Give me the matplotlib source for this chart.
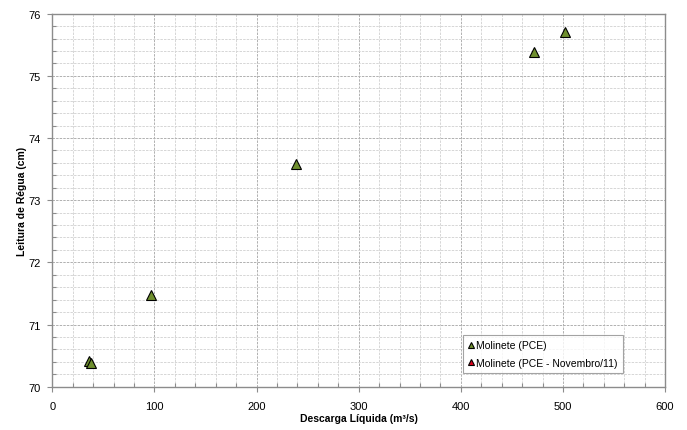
import matplotlib

matplotlib.use("Agg")
import matplotlib.pyplot as plt
from matplotlib.ticker import MultipleLocator

plt.rcParams["font.family"] = ["Liberation Sans", "DejaVu Sans"]

# medições com molinete
q_pce = [35.5, 37.8, 96.7, 238.2, 471.8, 502.0]
h_pce = [70.41, 70.38, 71.48, 73.59, 75.38, 75.70]

# campanha de novembro/11 (sem pontos no período)
q_nov = []
h_nov = []

XLIM = (0, 600)
YLIM = (70, 76)

fig = plt.figure(figsize=(6.87, 4.31), dpi=100)
ax = fig.add_axes([0.0761, 0.1005, 0.892, 0.8654])

ax.plot(q_pce, h_pce, ls="none", marker="^", ms=6.6, mfc="#6f8f2e",
        mec="black", mew=0.8, label="Molinete (PCE)", zorder=3)
ax.plot(q_nov, h_nov, ls="none", marker="^", ms=6.6, mfc="#e0001b",
        mec="black", mew=0.8, label="Molinete (PCE - Novembro/11)", zorder=3)

ax.set_xlim(*XLIM)
ax.set_ylim(*YLIM)
ax.xaxis.set_major_locator(MultipleLocator(100))
ax.xaxis.set_minor_locator(MultipleLocator(20))
ax.yaxis.set_major_locator(MultipleLocator(1))
ax.yaxis.set_minor_locator(MultipleLocator(0.2))

ax.grid(which="major", color="#b0b0b0", ls=(0, (2.5, 1.2)), lw=0.7)
ax.grid(which="minor", color="#d6d6d6", ls=(0, (2.5, 1.2)), lw=0.7)
ax.set_axisbelow(True)

for sp in ax.spines.values():
    sp.set_color("#8c8c8c")
    sp.set_linewidth(1.0)

ax.tick_params(which="major", direction="out", length=3.5, width=0.8,
               color="#8c8c8c", labelsize=8, pad=5)
ax.tick_params(which="minor", direction="in", length=3, width=0.8,
               color="#8c8c8c")
ax.tick_params(axis="x", which="major", pad=7)

ax.set_xlabel("Descarga Líquida (m³/s)", fontsize=7.5, fontweight="bold")
ax.set_ylabel("Leitura de Régua (cm)", fontsize=7.5, fontweight="bold")
ax.xaxis.set_label_coords(0.5, -0.083, transform=ax.transAxes)
ax.yaxis.set_label_coords(-0.05, 0.5, transform=ax.transAxes)
ax.xaxis.label.set_va("center")
ax.yaxis.label.set_va("center")

leg = ax.legend(loc="lower left", bbox_to_anchor=(0.67, 0.037),
                fontsize=7.5, frameon=True, fancybox=False, markerscale=0.7,
                handlelength=0.6, handletextpad=0.2, borderpad=0.5,
                labelspacing=0.7, borderaxespad=0)
leg.get_frame().set_edgecolor("#8c8c8c")
leg.get_frame().set_linewidth(0.8)

fig.savefig("out.png", dpi=100)
